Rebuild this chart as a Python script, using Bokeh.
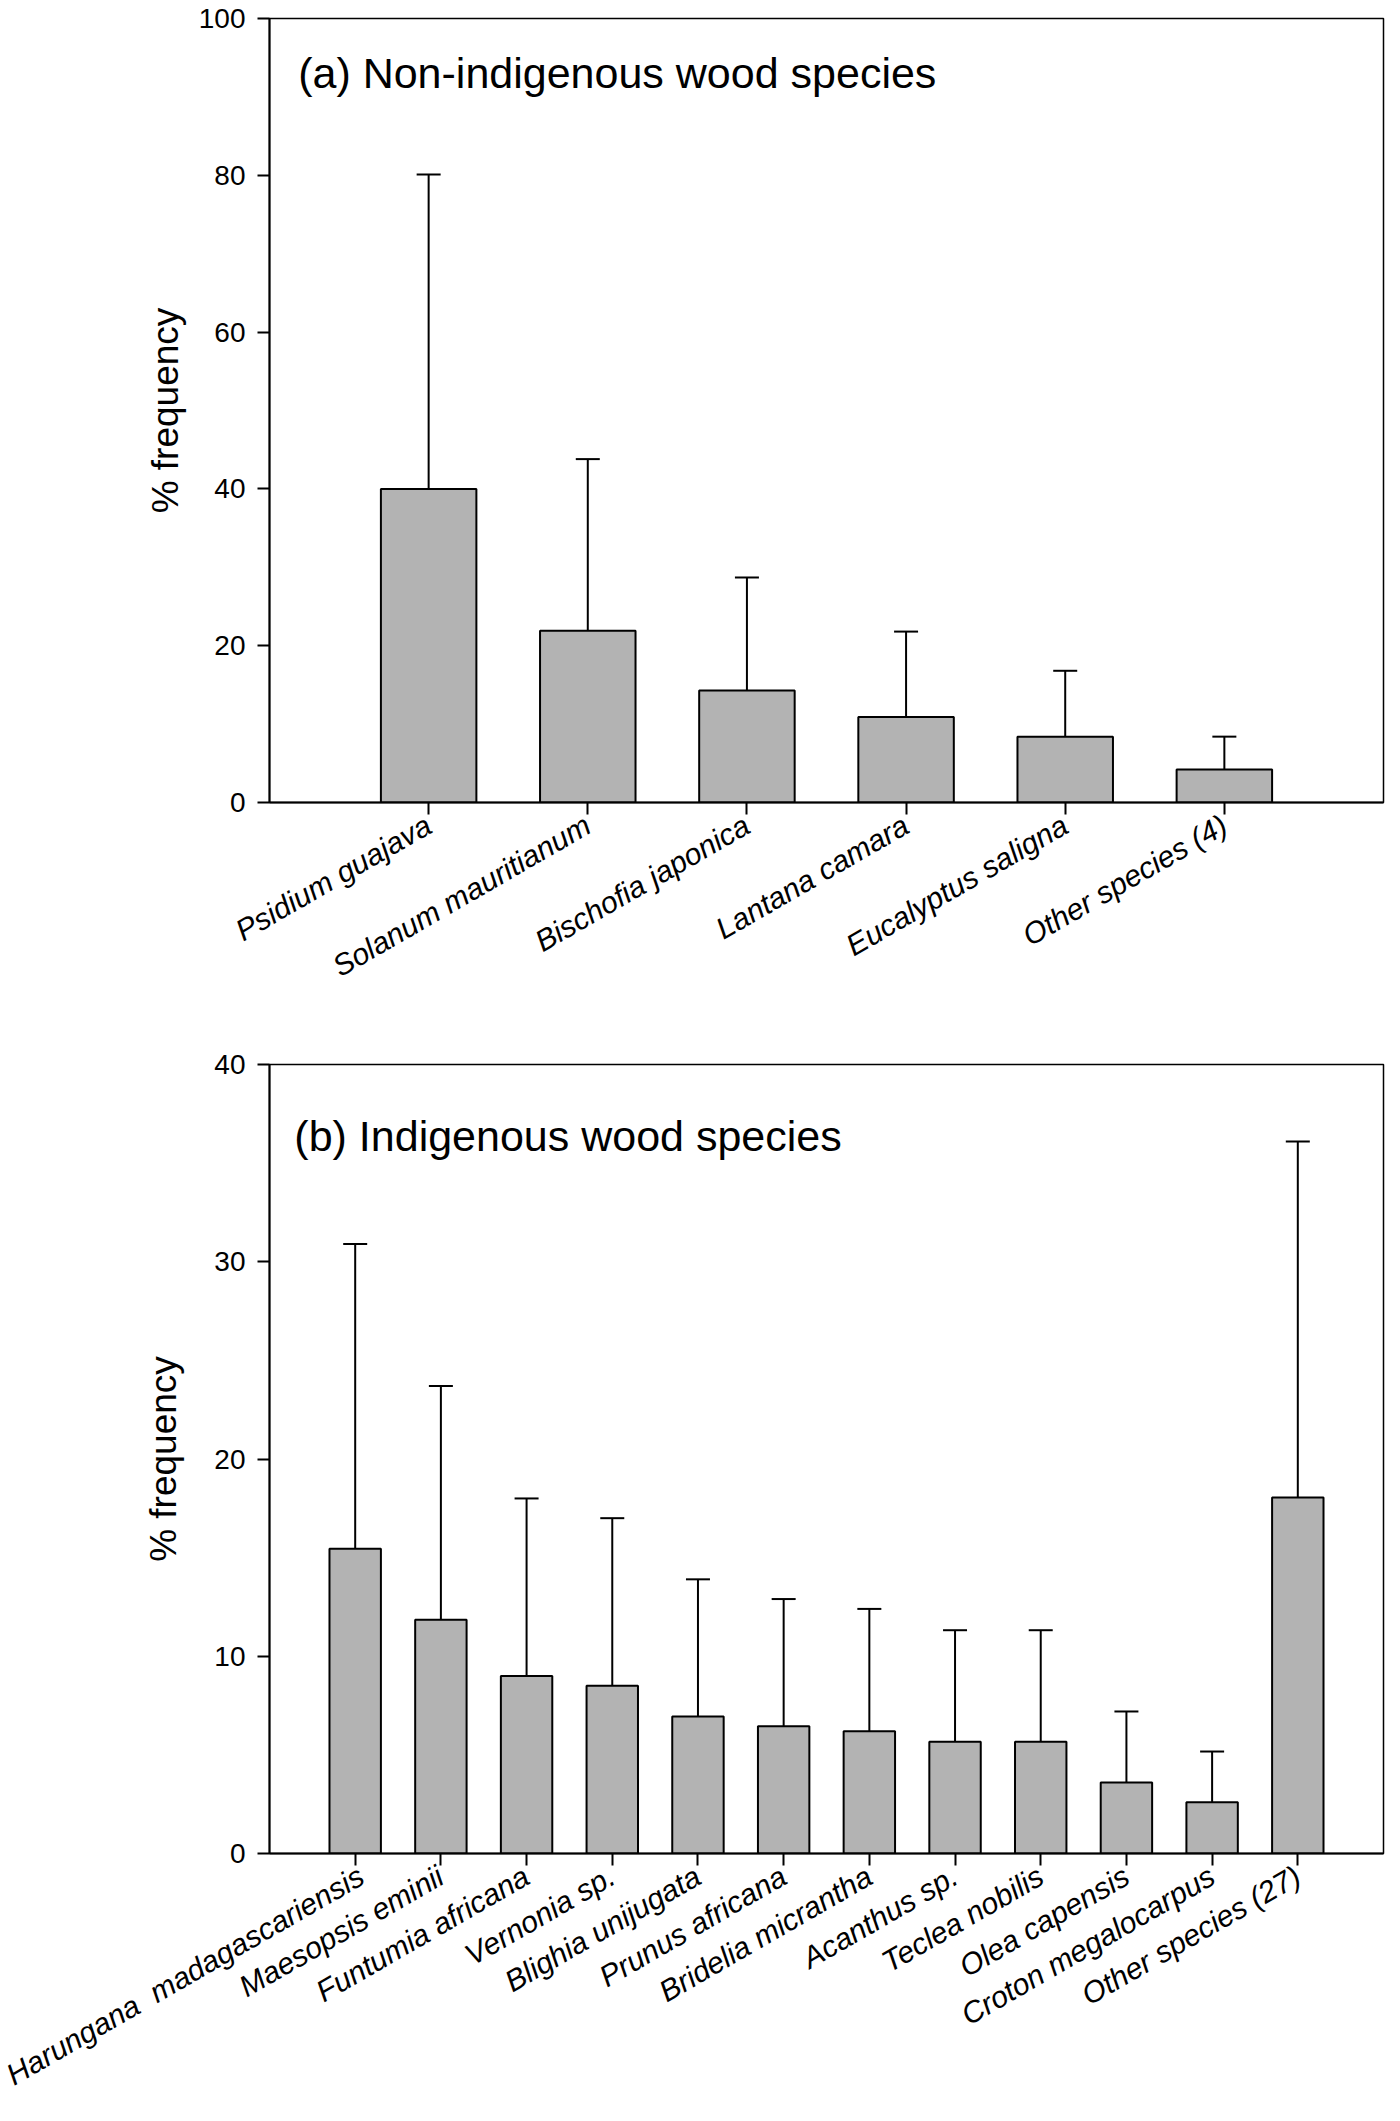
from bokeh.plotting import figure
from bokeh.models import ColumnDataSource, Range1d, FixedTicker, Whisker, TeeHead, Label
from bokeh.layouts import column
from bokeh.embed import file_html
from bokeh.resources import INLINE

# (a) non-indigenous wood species: mean % frequency and SD
non_species = ["Psidium guajava", "Solanum mauritianum", "Bischofia japonica",
               "Lantana camara", "Eucalyptus saligna", "Other species (4)"]
non_mean = [40.0, 21.9, 14.3, 10.9, 8.4, 4.2]
non_sd = [40.1, 21.9, 14.4, 10.9, 8.4, 4.2]

# (b) indigenous wood species
ind_species = ["Harungana\u00a0 madagascariensis", "Maesopsis eminii", "Funtumia africana",
               "Vernonia sp.", "Blighia unijugata", "Prunus africana",
               "Bridelia micrantha", "Acanthus sp.", "Teclea nobilis",
               "Olea capensis", "Croton megalocarpus", "Other species (27)"]
ind_mean = [15.45, 11.85, 9.0, 8.5, 6.95, 6.45, 6.2, 5.66, 5.66, 3.6, 2.6, 18.05]
ind_sd = [15.45, 11.85, 9.0, 8.5, 6.95, 6.45, 6.2, 5.66, 5.66, 3.6, 2.57, 18.05]

FONT = "Liberation Sans"


def make_panel(species, mean, sd, ymax, yticks, title, title_x, title_y,
               height, border_bottom, label_standoff):
    n = len(species)
    xs = list(range(1, n + 1))
    src = ColumnDataSource(dict(x=xs, top=mean,
                                upper=[m + s for m, s in zip(mean, sd)]))
    p = figure(width=1390, height=height, output_backend="svg",
               toolbar_location=None, x_range=Range1d(0, n + 1),
               y_range=Range1d(0, ymax), min_border_left=269,
               min_border_right=7, min_border_top=18,
               min_border_bottom=border_bottom)
    p.xgrid.visible = False
    p.ygrid.visible = False
    p.outline_line_color = "black"
    p.outline_line_width = 1.5
    p.outline_line_alpha = 1.0

    err = Whisker(source=src, base="x", lower="top", upper="upper",
                  line_width=2, line_color="black",
                  upper_head=TeeHead(size=24, line_width=2, line_color="black"),
                  lower_head=None)
    p.add_layout(err)
    p.vbar(x="x", top="top", width=0.6, source=src, fill_color="#b3b3b3",
           line_color="black", line_width=2)

    p.xaxis.ticker = FixedTicker(ticks=xs)
    p.xaxis.major_label_overrides = {x: s for x, s in zip(xs, species)}
    p.xaxis.major_label_orientation = 0.5236
    p.xaxis.major_label_text_font = FONT
    p.xaxis.major_label_text_font_style = "italic"
    p.xaxis.major_label_text_font_size = "30px"
    p.xaxis.major_label_text_color = "black"
    p.xaxis.major_label_standoff = 8

    p.yaxis.ticker = FixedTicker(ticks=yticks)
    p.yaxis.major_label_text_font = FONT
    p.yaxis.major_label_text_font_size = "28px"
    p.yaxis.major_label_text_color = "black"
    p.yaxis.major_label_standoff = 12
    p.yaxis.axis_label = "% frequency"
    p.yaxis.axis_label_text_font = FONT
    p.yaxis.axis_label_text_font_style = "normal"
    p.yaxis.axis_label_text_font_size = "37px"
    p.yaxis.axis_label_text_color = "black"
    p.yaxis.axis_label_standoff = label_standoff

    for ax in (p.xaxis, p.yaxis):
        ax.axis_line_width = 2
        ax.axis_line_color = "black"
        ax.major_tick_line_width = 2
        ax.major_tick_line_color = "black"
        ax.major_tick_out = 12
        ax.major_tick_in = 0
        ax.minor_tick_out = 0
        ax.minor_tick_in = 0

    p.add_layout(Label(x=title_x, y=title_y, text=title, text_font=FONT,
                       text_font_size="43px", text_color="black",
                       text_baseline="alphabetic"))
    return p


p1 = make_panel(non_species, non_mean, non_sd, 100, [0, 20, 40, 60, 80, 100],
                "(a) Non-indigenous wood species", 0.18, 93.1,
                1046, 244, 10)
p2 = make_panel(ind_species, ind_mean, ind_sd, 40, [0, 10, 20, 30, 40],
                "(b) Indigenous wood species", 0.29, 36.4,
                1062, 249, 27)

p = column(p1, p2)
open("out.html", "w").write(file_html(p, INLINE))
